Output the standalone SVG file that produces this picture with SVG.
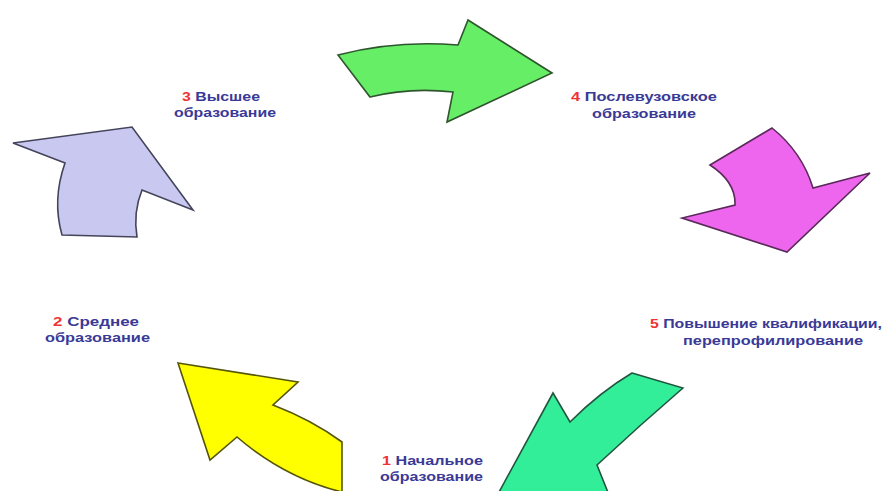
<svg xmlns="http://www.w3.org/2000/svg" width="891" height="491" viewBox="0 0 891 491">
<style>
.arr{stroke-width:1.6;stroke-linejoin:miter}
.lbl{font-family:"Liberation Sans",Arial,sans-serif;font-weight:bold;font-size:12px;fill:#3a3a96}
.num{fill:#ee3333}
</style>
<rect width="891" height="491" fill="#ffffff"/>
<g id="connectors">
<path id="arrow-1-2" class="arr" fill="#ffff00" stroke="#55550a" d="M178,363 L298,382 L273,405 Q312,420 342,442 L342,492 Q285,478 237,437 L210,460 Z"/>
<path id="arrow-2-3" class="arr" fill="#c8c8f0" stroke="#44445a" d="M13,143 L132,127 L193,210 L142,190 Q133,212 137,237 L62,235 Q52,200 65,163 Z"/>
<path id="arrow-3-4" class="arr" fill="#66ee66" stroke="#2e552e" d="M338,55 Q395,40 458,45 L468,20 L552,73 L447,122 L453,92 Q410,87 370,97 Z"/>
<path id="arrow-4-5" class="arr" fill="#ee66ee" stroke="#5a2a5a" d="M710,165 L772,128 Q802,152 813,188 L870,173 L787,252 L682,218 L735,205 Q736,182 710,165 Z"/>
<path id="arrow-5-1" class="arr" fill="#33ee99" stroke="#225540" d="M632,373 L683,388 Q640,425 597,465 L613,505 L492,505 L553,393 L570,422 Q600,392 632,373 Z"/>
</g>
<g id="node-1">
<text class="lbl" x="382" y="465" textLength="101" lengthAdjust="spacingAndGlyphs"><tspan class="num">1</tspan> Начальное</text>
<text class="lbl" x="380" y="481" textLength="103" lengthAdjust="spacingAndGlyphs">образование</text>
</g>
<g id="node-2">
<text class="lbl" x="53" y="326" textLength="86" lengthAdjust="spacingAndGlyphs"><tspan class="num">2</tspan> Среднее</text>
<text class="lbl" x="45" y="342" textLength="105" lengthAdjust="spacingAndGlyphs">образование</text>
</g>
<g id="node-3">
<text class="lbl" x="182" y="101" textLength="78" lengthAdjust="spacingAndGlyphs"><tspan class="num">3</tspan> Высшее</text>
<text class="lbl" x="174" y="117" textLength="102" lengthAdjust="spacingAndGlyphs">образование</text>
</g>
<g id="node-4">
<text class="lbl" x="571" y="101" textLength="146" lengthAdjust="spacingAndGlyphs"><tspan class="num">4</tspan> Послевузовское</text>
<text class="lbl" x="592" y="118" textLength="104" lengthAdjust="spacingAndGlyphs">образование</text>
</g>
<g id="node-5">
<text class="lbl" x="650" y="328" textLength="232" lengthAdjust="spacingAndGlyphs"><tspan class="num">5</tspan> Повышение квалификации,</text>
<text class="lbl" x="683" y="345" textLength="180" lengthAdjust="spacingAndGlyphs">перепрофилирование</text>
</g>
</svg>
